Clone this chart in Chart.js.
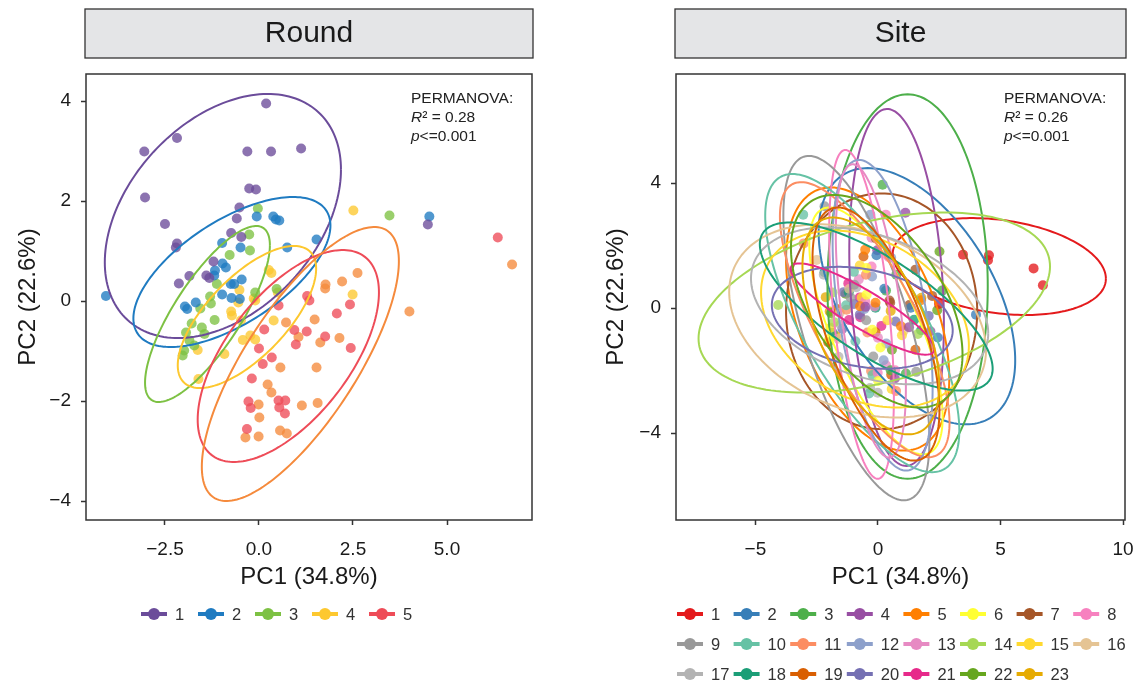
<!DOCTYPE html>
<html>
<head>
<meta charset="utf-8">
<script src="https://cdn.jsdelivr.net/npm/chart.js@4.4.1/dist/chart.umd.min.js"></script>
<style>
  html, body { margin: 0; padding: 0; background: #fff; }
  #wrap { position: relative; width: 1141px; height: 684px; }
  canvas { position: absolute; top: 0; }
</style>
</head>
<body>
<div id="wrap">
  <canvas id="roundChart" width="570" height="684" style="left:0"></canvas>
  <canvas id="siteChart" width="571" height="684" style="left:570px"></canvas>
</div>
<script>
// PCA scores, one entry per sample
const pc1 = [
  0.19, -2.18, -3.05, -0.31, 0.32, 1.12, -3.03, -0.26, -0.08, -2.50, -0.52, -0.59, -0.74, -0.47, -2.18, -2.21, -1.21, -1.40, -1.85, -2.13, -1.32, 4.49,
  -4.07, -0.06, 0.38, 0.45, 0.54, 1.53, 0.75, -0.98, -0.49, -0.97, -0.88, -1.17, -1.19, -0.46, -0.75, -0.66, -0.98, -0.73, -1.68, -1.97, -1.91, 4.53, -0.51,
  -0.03, -0.26, -0.24, -0.78, -1.12, -1.30, -1.28, -1.56, -1.18, -1.52, -1.79, -1.94, -1.45, -1.85, -1.99, -2.03, -1.72, -0.10, 0.47, 3.47,
  2.51, 0.26, 0.33, -0.52, -0.55, -0.14, -0.10, -0.74, -0.72, -0.48, 0.39, 2.49, -0.23, -0.10, -0.43, -1.63, -0.92, -1.61, 0.50,
  6.35, 1.28, 1.34, 0.52, 2.42, 2.07, 0.14, 0.94, 1.27, 1.76, 0.98, 2.44, 0.00, 0.34, 0.10, -0.19, 0.52, 0.70, -0.28, -0.22, 0.54, 0.69, -0.32,
  6.73, 4.00, 2.62, 1.77, 2.21, 1.76, 1.48, 0.72, 1.05, 1.63, 2.14, 0.57, 1.53, 0.23, 0.33, -0.01, 1.14, 1.56, 0.01, -0.36, -0.01, 0.56, 0.74
];
const pc2 = [
  3.95, 3.26, 2.99, 2.99, 2.99, 3.05, 2.07, 2.25, 2.23, 1.54, 1.87, 1.65, 1.36, 1.28, 1.15, 1.07, 0.79, 0.51, 0.50, 0.35, 0.46, 1.53,
  0.10, 1.69, 1.69, 1.63, 1.61, 1.23, 1.07, 1.16, 1.07, 0.75, 0.67, 0.61, 0.51, 0.43, 0.34, 0.34, 0.13, 0.06, -0.03, -0.11, -0.16, 1.69, 0.04,
  1.85, 1.33, 1.01, 0.92, 0.34, 0.09, -0.05, -0.15, -0.38, -0.53, -0.45, -0.63, -0.66, -0.79, -0.99, -1.09, -0.89, 0.17, 0.24, 1.71,
  1.81, 0.62, 0.56, 0.22, -0.03, 0.05, 0.01, -0.21, -0.29, -0.39, -0.39, 0.13, -0.69, -0.77, -0.78, -0.98, -1.06, -1.56, 0.17,
  1.27, 0.10, 0.01, -0.09, -0.07, -0.25, -0.57, -0.58, -0.61, -0.71, -0.87, -0.94, -0.95, -1.13, -1.26, -1.55, -1.99, -1.99, -2.01, -2.14, -2.13, -2.25, -2.56,
  0.73, -0.21, 0.56, 0.33, 0.39, 0.25, -0.37, -0.43, -0.72, -0.83, -0.74, -1.33, -1.33, -1.67, -1.83, -2.07, -2.09, -2.04, -2.33, -2.73, -2.71, -2.59, -2.65
];
const roundOf = [
  1, 1, 1, 1, 1, 1, 1, 1, 1, 1, 1, 1, 1, 1, 1, 1, 1, 1, 1, 1, 1, 1,
  2, 2, 2, 2, 2, 2, 2, 2, 2, 2, 2, 2, 2, 2, 2, 2, 2, 2, 2, 2, 2, 2, 2,
  3, 3, 3, 3, 3, 3, 3, 3, 3, 3, 3, 3, 3, 3, 3, 3, 3, 3, 3, 3,
  4, 4, 4, 4, 4, 4, 4, 4, 4, 4, 4, 4, 4, 4, 4, 4, 4, 4, 4,
  5, 5, 5, 5, 5, 5, 5, 5, 5, 5, 5, 5, 5, 5, 5, 5, 5, 5, 5, 5, 5, 5, 5,
  6, 6, 6, 6, 6, 6, 6, 6, 6, 6, 6, 6, 6, 6, 6, 6, 6, 6, 6, 6, 6, 6, 6
];
const siteOf = [
  3, 9, 10, 12, 8, 4, 11, 13, 7, 16, 5, 19, 15, 6, 18, 17, 21, 20, 14, 23, 22, 1,
  14, 2, 13, 8, 12, 7, 3, 10, 11, 9, 17, 16, 18, 6, 21, 15, 20, 5, 19, 23, 22, 1, 4,
  4, 8, 12, 13, 9, 10, 11, 16, 21, 17, 14, 15, 20, 18, 6, 19, 23, 5, 7, 1,
  22, 2, 3, 8, 12, 13, 18, 20, 21, 9, 15, 1, 6, 19, 11, 16, 10, 17, 7,
  1, 7, 2, 23, 22, 20, 21, 5, 4, 18, 15, 2, 13, 12, 6, 9, 3, 8, 11, 10, 19, 4, 17,
  1, 2, 3, 23, 7, 5, 18, 20, 16, 14, 4, 22, 19, 12, 13, 8, 3, 9, 6, 10, 17, 15, 11
];

const rounds = ['1', '2', '3', '4', '5', '6'];
const roundLegend = ['1', '2', '3', '4', '5'];
const roundColors = ['#6b4c9a', '#1f7bc1', '#7dc143', '#fdc82f', '#ee4c58', '#f58a3c'];
const sites = ['1', '2', '3', '4', '5', '6', '7', '8', '9', '10', '11', '12',
  '13', '14', '15', '16', '17', '18', '19', '20', '21', '22', '23'];
const siteColors = ['#e41a1c', '#377eb8', '#4daf4a', '#984ea3', '#ff7f00', '#ffff33', '#a65628', '#f781bf',
  '#999999', '#66c2a5', '#fc8d62', '#8da0cb', '#e78ac3', '#a6d854', '#ffd92f', '#e5c494',
  '#b3b3b3', '#1b9e77', '#d95f02', '#7570b3', '#e7298a', '#66a61e', '#e6ab02'];

// 95% ellipses per group: centre, half-extent along each axis, correlation
const roundEllCx = [-0.96, -0.72, -1.37, -0.32, 0.78, 1.10];
const roundEllCy = [1.70, 0.58, -0.26, -0.32, -1.10, -1.26];
const roundEllHx = [3.14, 2.62, 1.66, 1.84, 2.41, 2.62];
const roundEllHy = [2.44, 1.50, 1.76, 1.42, 2.12, 2.74];
const roundEllRho = [0.38, 0.62, 0.78, 0.68, 0.60, 0.75];

const siteEllCx = [4.95, 1.59, 1.21, 0.76, -0.42, -0.08, 0.15, -0.67, -0.88, -0.64, -0.54, 0.19,
  -0.29, -0.15, -0.53, -0.83, -0.34, -0.07, -0.08, -0.64, -0.63, -0.05, -0.29];
const siteEllCy = [1.33, 0.38, 0.69, 0.66, -0.35, -0.73, -0.10, -0.20, -0.64, -0.48, -0.37, -0.23,
  -0.09, 0.18, -0.35, -0.41, 0.07, 0.05, -0.83, -0.31, -0.03, 0.22, -0.57];
const siteEllHx = [4.35, 4.01, 3.27, 1.93, 3.33, 2.72, 3.90, 1.32, 2.98, 3.96, 3.46, 2.04,
  1.43, 7.17, 4.24, 5.24, 4.84, 4.75, 2.59, 3.69, 2.93, 3.50, 2.79];
const siteEllHy = [1.55, 4.10, 6.15, 5.71, 4.21, 3.95, 3.77, 5.26, 5.51, 4.77, 4.40, 4.97,
  4.69, 2.88, 2.83, 3.09, 2.51, 2.69, 4.05, 1.63, 1.46, 3.40, 3.47];
const siteEllRho = [-0.25, -0.5, 0, -0.2, -0.45, -0.7, 0, -0.5, -0.65, -0.72, -0.75, -0.47,
  -0.52, 0.4, -0.3, -0.3, -0.35, -0.74, -0.6, -0.25, -0.88, -0.5, -0.55];

const roundXTicks = [-2.5, 0, 2.5, 5];
const roundYTicks = [-4, -2, 0, 2, 4];
const siteXTicks = [-5, 0, 5, 10];
const siteYTicks = [-4, 0, 4];

const FONT = '"Liberation Sans", Arial, Helvetica, sans-serif';
const INK = '#1a1a1a';
const minus = s => String(s).replace('-', '\u2212');

function alpha(hex, a) {
  const n = parseInt(hex.slice(1), 16);
  return `rgba(${n >> 16},${(n >> 8) & 255},${n & 255},${a})`;
}

function groupData(groups, key) {
  return groups.map((g, gi) => {
    const pts = [];
    pc1.forEach((x, i) => { if (key[i] === gi + 1) pts.push({ x: x, y: pc2[i] }); });
    return pts;
  });
}

// strip title, panel box, ellipses, stats note and legend
const panelDecor = {
  id: 'panelDecor',
  beforeDraw(chart, args, o) {
    const { ctx, chartArea: a } = chart;
    ctx.save();
    ctx.fillStyle = '#e4e5e7';
    ctx.fillRect(a.left - 1, 9, a.right - a.left + 2, 49);
    ctx.strokeStyle = '#333';
    ctx.lineWidth = 1.3;
    ctx.strokeRect(a.left - 1, 9, a.right - a.left + 2, 49);
    ctx.fillStyle = INK;
    ctx.font = '30px ' + FONT;
    ctx.textAlign = 'center';
    ctx.textBaseline = 'middle';
    ctx.fillText(o.strip, (a.left + a.right) / 2, 34);
    ctx.restore();
  },
  afterDatasetsDraw(chart, args, o) {
    const { ctx, chartArea: a, scales: { x, y } } = chart;
    const e = o.ellipses;
    ctx.save();
    ctx.beginPath();
    ctx.rect(a.left, a.top, a.right - a.left, a.bottom - a.top);
    ctx.clip();
    ctx.lineWidth = 2;
    e.cx.forEach((cx, i) => {
      const r = e.rho[i], s = Math.sqrt(1 - r * r);
      ctx.beginPath();
      for (let k = 0; k <= 180; k++) {
        const t = k / 180 * Math.PI * 2;
        const vx = cx + e.hx[i] * Math.cos(t);
        const vy = e.cy[i] + e.hy[i] * (r * Math.cos(t) + s * Math.sin(t));
        const px = x.getPixelForValue(vx), py = y.getPixelForValue(vy);
        if (k === 0) ctx.moveTo(px, py); else ctx.lineTo(px, py);
      }
      ctx.strokeStyle = e.colors[i];
      ctx.stroke();
    });
    ctx.restore();
  },
  afterDraw(chart, args, o) {
    const { ctx, chartArea: a } = chart;
    ctx.save();
    ctx.strokeStyle = '#333';
    ctx.lineWidth = 1.5;
    ctx.strokeRect(a.left, a.top, a.right - a.left, a.bottom - a.top);

    // PERMANOVA note
    const tx = a.right - 121;
    ctx.fillStyle = '#222';
    ctx.textBaseline = 'middle';
    ctx.textAlign = 'left';
    ctx.font = '15.5px ' + FONT;
    ctx.fillText('PERMANOVA:', tx, 99);
    ctx.font = 'italic 15.5px ' + FONT;
    ctx.fillText('R', tx, 118);
    let w = ctx.measureText('R').width;
    ctx.font = '15.5px ' + FONT;
    ctx.fillText('\u00b2 = ' + o.r2, tx + w, 118);
    ctx.font = 'italic 15.5px ' + FONT;
    ctx.fillText('p', tx, 137);
    w = ctx.measureText('p').width;
    ctx.font = '15.5px ' + FONT;
    ctx.fillText('<=' + o.p, tx + w, 137);

    // legend keys: line with a dot, then the label
    const L = o.legend;
    ctx.font = '16.5px ' + FONT;
    L.labels.forEach((lab, i) => {
      const col = i % L.perRow, row = Math.floor(i / L.perRow);
      const x0 = L.x + col * L.step, y0 = L.y + row * 30;
      ctx.strokeStyle = L.colors[i];
      ctx.lineWidth = 4;
      ctx.beginPath();
      ctx.moveTo(x0, y0);
      ctx.lineTo(x0 + 26, y0);
      ctx.stroke();
      ctx.fillStyle = L.colors[i];
      ctx.beginPath();
      ctx.arc(x0 + 13, y0, 6, 0, Math.PI * 2);
      ctx.fill();
      ctx.fillStyle = '#333';
      ctx.fillText(lab, x0 + 34, y0 + 1);
    });
    ctx.restore();
  }
};

function makeChart(id, cfg) {
  const groups = groupData(cfg.groups, cfg.key);
  return new Chart(document.getElementById(id), {
    type: 'scatter',
    data: {
      datasets: groups.map((pts, i) => ({
        label: cfg.groups[i],
        data: pts,
        pointRadius: 5,
        pointBorderWidth: 0,
        pointBackgroundColor: alpha(cfg.colors[i], 0.78),
        pointBorderColor: 'rgba(0,0,0,0)'
      }))
    },
    options: {
      responsive: false,
      animation: false,
      events: [],
      layout: { padding: { left: 0, right: cfg.padRight, top: 74, bottom: 0 } },
      scales: {
        x: {
          type: 'linear',
          min: cfg.xRange[0], max: cfg.xRange[1],
          afterBuildTicks: s => { s.ticks = cfg.xTicks.map(v => ({ value: v })); },
          afterFit: s => { s.height = 164; s.paddingLeft = 0; s.paddingRight = 0; },
          grid: { drawOnChartArea: false, drawTicks: true, tickLength: 5, tickWidth: 1.5, tickColor: '#333' },
          border: { display: false },
          ticks: {
            padding: 13, color: INK, font: { family: FONT, size: 19 }, maxRotation: 0,
            callback: v => minus(cfg.xFmt(v))
          },
          title: {
            display: true, text: 'PC1 (34.8%)', color: INK,
            font: { family: FONT, size: 24, lineHeight: 1.2 }, padding: { top: 0, bottom: 92.6 }
          }
        },
        y: {
          type: 'linear',
          min: cfg.yRange[0], max: cfg.yRange[1],
          afterBuildTicks: s => { s.ticks = cfg.yTicks.map(v => ({ value: v })); },
          afterFit: s => { s.width = cfg.yWidth; s.paddingTop = 0; s.paddingBottom = 0; },
          grid: { drawOnChartArea: false, drawTicks: true, tickLength: 5, tickWidth: 1.5, tickColor: '#333' },
          border: { display: false },
          ticks: {
            padding: 10, color: INK, font: { family: FONT, size: 19 },
            callback: v => minus(v)
          },
          title: {
            display: true, text: 'PC2 (22.6%)', color: INK,
            font: { family: FONT, size: 24, lineHeight: 1.2 }, padding: { top: cfg.yTitlePad, bottom: 0 }
          }
        }
      },
      plugins: {
        legend: { display: false },
        tooltip: { enabled: false },
        panelDecor: {
          strip: cfg.strip,
          r2: cfg.r2,
          p: '0.001',
          ellipses: cfg.ellipses,
          legend: cfg.legend
        }
      }
    },
    plugins: [panelDecor]
  });
}

makeChart('roundChart', {
  groups: rounds, key: roundOf, colors: roundColors, strip: 'Round', r2: '0.28',
  padRight: 38, yWidth: 86, yTitlePad: 13.6,
  xRange: [-4.6, 7.26], yRange: [-4.38, 4.54],
  xTicks: roundXTicks, yTicks: roundYTicks, xFmt: v => v.toFixed(1),
  ellipses: { cx: roundEllCx, cy: roundEllCy, hx: roundEllHx, hy: roundEllHy, rho: roundEllRho, colors: roundColors },
  legend: { labels: roundLegend, colors: roundColors, x: 141, y: 614, step: 57, perRow: 5 }
});

makeChart('siteChart', {
  groups: sites, key: siteOf, colors: siteColors, strip: 'Site', r2: '0.26',
  padRight: 16, yWidth: 106, yTitlePad: 31.6,
  xRange: [-8.24, 10.08], yRange: [-6.78, 7.49],
  xTicks: siteXTicks, yTicks: siteYTicks, xFmt: v => String(v),
  ellipses: { cx: siteEllCx, cy: siteEllCy, hx: siteEllHx, hy: siteEllHy, rho: siteEllRho, colors: siteColors },
  legend: { labels: sites, colors: siteColors, x: 107, y: 614, step: 56.6, perRow: 8 }
});
</script>
</body>
</html>
